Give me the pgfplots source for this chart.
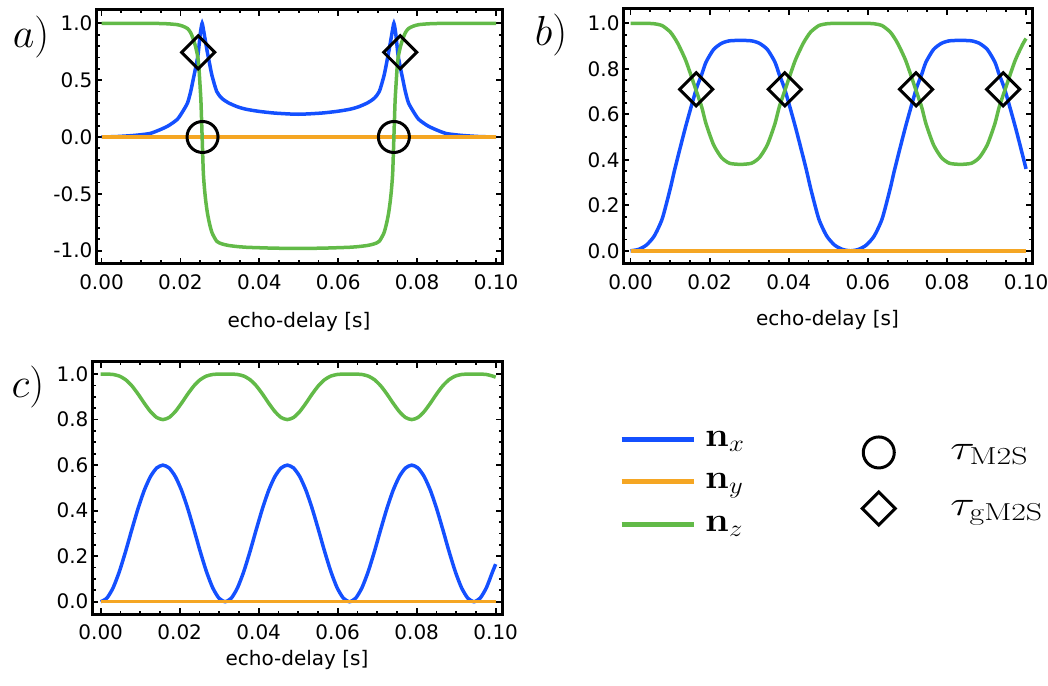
\RequirePackage{fix-cm}
\documentclass[border=0pt]{standalone}
\usepackage[no-math]{fontspec}
\usepackage{pgfplots}
\usepackage{pgfplotstable}
\pgfplotsset{compat=1.18}
\newfontfamily\tickfont{DejaVu Sans}
\definecolor{cx}{RGB}{20,80,255}
\definecolor{cy}{RGB}{245,166,35}
\definecolor{cz}{RGB}{98,186,72}

\pgfplotstableread{
t nx nz
0.0000 0.000 1.000
0.0040 0.004 1.000
0.0080 0.013 1.000
0.0100 0.020 1.000
0.0124 0.032 0.999
0.0149 0.065 0.998
0.0170 0.100 0.995
0.0192 0.155 0.988
0.0205 0.220 0.976
0.0218 0.300 0.954
0.0226 0.400 0.917
0.0232 0.500 0.866
0.0238 0.600 0.800
0.0244 0.710 0.704
0.0247 0.800 0.600
0.0250 0.900 0.436
0.0252 0.950 0.312
0.0255 1.000 0.000
0.0258 0.950 -0.312
0.0261 0.890 -0.456
0.0264 0.830 -0.558
0.0268 0.750 -0.661
0.0273 0.660 -0.751
0.0280 0.540 -0.842
0.0292 0.400 -0.917
0.0305 0.340 -0.940
0.0322 0.300 -0.954
0.0345 0.265 -0.964
0.0368 0.243 -0.970
0.0400 0.225 -0.974
0.0440 0.210 -0.978
0.0498 0.200 -0.980
0.0556 0.210 -0.978
0.0596 0.225 -0.974
0.0628 0.243 -0.970
0.0651 0.265 -0.964
0.0674 0.300 -0.954
0.0691 0.340 -0.940
0.0704 0.400 -0.917
0.0716 0.540 -0.842
0.0723 0.660 -0.751
0.0728 0.750 -0.661
0.0732 0.830 -0.558
0.0735 0.890 -0.456
0.0738 0.950 -0.312
0.0741 1.000 0.000
0.0744 0.950 0.312
0.0746 0.900 0.436
0.0749 0.800 0.600
0.0752 0.710 0.704
0.0758 0.600 0.800
0.0764 0.500 0.866
0.0770 0.400 0.917
0.0778 0.300 0.954
0.0791 0.220 0.976
0.0804 0.155 0.988
0.0826 0.100 0.995
0.0847 0.065 0.998
0.0872 0.032 0.999
0.0896 0.020 1.000
0.0916 0.013 1.000
0.0956 0.004 1.000
0.1000 0.000 1.000
}\tabA

\pgfplotstableread{
t nx nz
0.0000 0.000 1.000
0.0020 0.006 1.000
0.0040 0.025 1.000
0.0060 0.065 0.998
0.0080 0.140 0.990
0.0100 0.270 0.963
0.0110 0.345 0.939
0.0120 0.415 0.910
0.0140 0.550 0.835
0.0166 0.710 0.704
0.0180 0.775 0.632
0.0191 0.830 0.558
0.0210 0.885 0.466
0.0230 0.912 0.410
0.0250 0.923 0.385
0.0278 0.925 0.380
0.0306 0.923 0.385
0.0326 0.912 0.410
0.0346 0.885 0.466
0.0365 0.830 0.558
0.0376 0.775 0.632
0.0390 0.710 0.704
0.0416 0.550 0.835
0.0436 0.415 0.910
0.0446 0.345 0.939
0.0456 0.270 0.963
0.0476 0.140 0.990
0.0496 0.065 0.998
0.0516 0.025 1.000
0.0536 0.006 1.000
0.0556 0.000 1.000
0.0576 0.006 1.000
0.0596 0.025 1.000
0.0616 0.065 0.998
0.0636 0.140 0.990
0.0656 0.270 0.963
0.0666 0.345 0.939
0.0676 0.415 0.910
0.0696 0.550 0.835
0.0722 0.710 0.704
0.0736 0.775 0.632
0.0747 0.830 0.558
0.0766 0.885 0.466
0.0786 0.912 0.410
0.0806 0.923 0.385
0.0834 0.925 0.380
0.0862 0.923 0.385
0.0882 0.912 0.410
0.0902 0.885 0.466
0.0921 0.830 0.558
0.0932 0.775 0.632
0.0946 0.710 0.704
0.0972 0.550 0.835
0.0992 0.415 0.910
0.1000 0.360 0.933
}\tabB

\pgfplotstableread{
t nx nz
0.000000 0.0000 1.0000
0.001575 0.0158 0.9999
0.003150 0.0614 0.9981
0.004725 0.1323 0.9912
0.006300 0.2205 0.9754
0.007875 0.3163 0.9487
0.009450 0.4088 0.9126
0.011025 0.4889 0.8723
0.012600 0.5497 0.8354
0.014175 0.5875 0.8092
0.015750 0.6000 0.8000
0.017325 0.5875 0.8092
0.018900 0.5497 0.8354
0.020475 0.4889 0.8723
0.022050 0.4088 0.9126
0.023625 0.3163 0.9487
0.025200 0.2205 0.9754
0.026775 0.1323 0.9912
0.028350 0.0614 0.9981
0.029925 0.0158 0.9999
0.031500 0.0000 1.0000
0.033075 0.0158 0.9999
0.034650 0.0614 0.9981
0.036225 0.1323 0.9912
0.037800 0.2205 0.9754
0.039375 0.3163 0.9487
0.040950 0.4088 0.9126
0.042525 0.4889 0.8723
0.044100 0.5497 0.8354
0.045675 0.5875 0.8092
0.047250 0.6000 0.8000
0.048825 0.5875 0.8092
0.050400 0.5497 0.8354
0.051975 0.4889 0.8723
0.053550 0.4088 0.9126
0.055125 0.3163 0.9487
0.056700 0.2205 0.9754
0.058275 0.1323 0.9912
0.059850 0.0614 0.9981
0.061425 0.0158 0.9999
0.063000 0.0000 1.0000
0.064575 0.0158 0.9999
0.066150 0.0614 0.9981
0.067725 0.1323 0.9912
0.069300 0.2205 0.9754
0.070875 0.3163 0.9487
0.072450 0.4088 0.9126
0.074025 0.4889 0.8723
0.075600 0.5497 0.8354
0.077175 0.5875 0.8092
0.078750 0.6000 0.8000
0.080325 0.5875 0.8092
0.081900 0.5497 0.8354
0.083475 0.4889 0.8723
0.085050 0.4088 0.9126
0.086625 0.3163 0.9487
0.088200 0.2205 0.9754
0.089775 0.1323 0.9912
0.091350 0.0614 0.9981
0.092925 0.0158 0.9999
0.094500 0.0000 1.0000
0.096075 0.0158 0.9999
0.097650 0.0614 0.9981
0.099225 0.1323 0.9912
0.100000 0.1650 0.9863
}\tabC

\pgfplotsset{
  panel/.style={
    scale only axis,
    anchor=south west,
    axis line style={line width=3pt, black},
    tick style={line width=1.8pt, black},
    major tick length=6pt,
    minor tick length=3.5pt,
    xtick={0,0.02,0.04,0.06,0.08,0.1},
    minor x tick num=3,
    scaled x ticks=false, scaled y ticks=false,
    xticklabel style={/pgf/number format/.cd, fixed, fixed zerofill, precision=2},
    yticklabel style={/pgf/number format/.cd, fixed, fixed zerofill, precision=1},
    /pgf/number format/assume math mode=true,
    tick label style={font=\tickfont\fontsize{20}{22}\selectfont},
    xticklabel shift=7pt,
    xlabel={echo-delay [s]},
    label style={font=\tickfont\fontsize{20}{22}\selectfont},
  },
  ln/.style={line width=3.5pt, smooth, tension=0.4, no markers},
  circ/.style={only marks, mark=o, mark size=15.5pt, mark options={line width=3pt, black}},
  diam/.style={only marks, mark=square, mark size=11.7pt, mark options={line width=3pt, black, rotate=45}},
}

\begin{document}
\begin{tikzpicture}
% panel a
\begin{axis}[panel, at={(96pt,421pt)}, width=406pt, height=254pt,
  xmin=-0.0014, xmax=0.1015, ymin=-1.117, ymax=1.117,
  ytick={-1,-0.5,0,0.5,1}, minor y tick num=4,
  x label style={at={(axis description cs:0.5,-0.228)}, anchor=center}]
  \addplot[ln, color=cx] table[x=t, y=nx] {\tabA};
  \addplot[ln, color=cy] coordinates {(0,0) (0.1,0)};
  \addplot[ln, color=cz] table[x=t, y=nz] {\tabA};
  \addplot[circ] coordinates {(0.0256,0) (0.0741,0)};
  \addplot[diam] coordinates {(0.0245,0.745) (0.0757,0.745)};
\end{axis}
% panel b
\begin{axis}[panel, at={(623pt,421pt)}, width=409pt, height=255pt,
  xmin=-0.0019, xmax=0.1015, ymin=-0.058, ymax=1.063,
  ytick={0,0.2,0.4,0.6,0.8,1}, minor y tick num=3,
  x label style={at={(axis description cs:0.5,-0.22)}, anchor=center},
  legend image code/.code={\draw[#1] plot coordinates {(0pt,0pt)};},
  legend style={at={(axis description cs:0.5844,-0.851)}, anchor=west, draw=none, fill=none,
    inner sep=0pt, row sep=24pt, font=\fontsize{35}{40}\selectfont,
    /tikz/every odd column/.append style={column sep=53pt}},
  legend cell align=left]
  \addplot[ln, color=cx, forget plot] table[x=t, y=nx] {\tabB};
  \addplot[ln, color=cy, forget plot] coordinates {(0,0) (0.1,0)};
  \addplot[ln, color=cz, forget plot] table[x=t, y=nz] {\tabB};
  \addplot[diam, forget plot] coordinates {(0.0166,0.71) (0.0390,0.71) (0.0722,0.71) (0.0942,0.71)};
  \addlegendimage{circ}
  \addlegendentry{\scalebox{1.3}[1]{$\tau_{\mathrm{M2S}}$}}
  \addlegendimage{diam}
  \addlegendentry{\scalebox{1.3}[1]{$\tau_{\mathrm{gM2S}}$}}
\end{axis}
% panel c
\begin{axis}[panel, at={(92pt,71pt)}, width=410pt, height=252pt,
  xmin=-0.0022, xmax=0.1016, ymin=-0.054, ymax=1.053,
  ytick={0,0.2,0.4,0.6,0.8,1}, minor y tick num=3,
  x label style={at={(axis description cs:0.5,-0.183)}, anchor=center},
  legend image code/.code={\draw[#1, line width=5pt] (0pt,0pt) -- (72pt,0pt);},
  legend style={at={(axis description cs:1.2854,0.524)}, anchor=west, draw=none, fill=none,
    inner sep=0pt, row sep=22pt, font=\fontsize{34}{40}\selectfont,
    /tikz/every odd column/.append style={column sep=7pt}},
  legend cell align=left]
  \addplot[ln, color=cx] table[x=t, y=nx] {\tabC};
  \addplot[ln, color=cy] coordinates {(0,0) (0.1,0)};
  \addplot[ln, color=cz] table[x=t, y=nz] {\tabC};
  \legend{\scalebox{1.12}[1]{$\mathbf{n}_x$}, \scalebox{1.12}[1]{$\mathbf{n}_y$}, \scalebox{1.12}[1]{$\mathbf{n}_z$}}
\end{axis}
\node[font=\fontsize{42}{48}\selectfont] at (31pt,648pt) {$a)$};
\node[font=\fontsize{42}{48}\selectfont] at (551pt,650pt) {$b)$};
\node[font=\fontsize{42}{48}\selectfont] at (28pt,298pt) {$c)$};
\pgfresetboundingbox
\path (0pt,0pt) rectangle (1048pt,685pt);
\end{tikzpicture}
\end{document}
